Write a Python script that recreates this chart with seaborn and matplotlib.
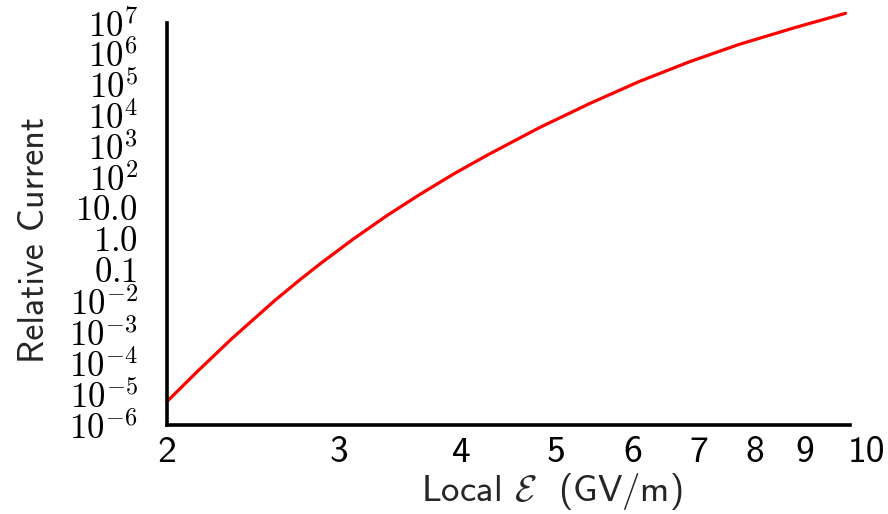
import numpy as np
import pandas as pd
import matplotlib
matplotlib.use("Agg")
import matplotlib.pyplot as plt
import matplotlib.ticker as mticker
import matplotlib.transforms as mtransforms
import seaborn as sns

# Data
field_gv_m = [2.00, 2.15, 2.33, 2.58, 2.74, 2.87, 3.10, 3.36, 3.63, 3.93,
              4.25, 4.56, 4.82, 5.42, 6.09, 6.86, 7.71, 8.81, 9.90]
log10_current = [-5.24, -4.26, -3.21, -1.97, -1.29, -0.79, 0.00, 0.77, 1.45, 2.11,
                 2.71, 3.22, 3.62, 4.39, 5.10, 5.74, 6.30, 6.85, 7.30]

xticks = [2, 3, 4, 5, 6, 7, 8, 9, 10]
xtick_labels = ["2", "3", "4", "5", "6", "7", "8", "9", "10"]
yticks = [1e7, 1e6, 1e5, 1e4, 1e3, 1e2, 1e1, 1e0, 1e-1, 1e-2, 1e-3, 1e-4, 1e-5, 1e-6]
ytick_labels = [r"$10^{7}$", r"$10^{6}$", r"$10^{5}$", r"$10^{4}$", r"$10^{3}$", r"$10^{2}$",
                r"$10.0$", r"$1.0$", r"$0.1$", r"$10^{-2}$", r"$10^{-3}$", r"$10^{-4}$",
                r"$10^{-5}$", r"$10^{-6}$"]

df = pd.DataFrame({"E": field_gv_m, "I": [10.0 ** v for v in log10_current]})

sns.set_style("white")
plt.rcParams["font.family"] = ["cmss10", "DejaVu Sans"]
plt.rcParams["mathtext.fontset"] = "cm"
plt.rcParams["axes.unicode_minus"] = False

fig = plt.figure(figsize=(8.88, 5.14), dpi=100)
ax = fig.add_axes([0.188, 0.173, 0.769, 0.783])

sns.lineplot(data=df, x="E", y="I", ax=ax, color="#ff0000", linewidth=2.3, sort=False)
for ln in ax.get_lines():
    ln.set_clip_on(False)

ax.set_xscale("log")
ax.set_yscale("log")
ax.set_xlim(2, 10)
ax.set_ylim(1e-6, 1e7)

ax.xaxis.set_major_locator(mticker.FixedLocator(xticks))
ax.xaxis.set_minor_locator(mticker.NullLocator())
ax.set_xticklabels(xtick_labels)
ax.yaxis.set_major_locator(mticker.FixedLocator(yticks))
ax.yaxis.set_minor_locator(mticker.NullLocator())
ax.set_yticklabels(ytick_labels)

for s in ["top", "right"]:
    ax.spines[s].set_visible(False)
for s in ["left", "bottom"]:
    ax.spines[s].set_linewidth(2.6)
    ax.spines[s].set_color("black")

ax.tick_params(axis="x", direction="in", length=7, width=2.4, labelsize=27, pad=8, colors="black")
ax.tick_params(axis="y", direction="in", length=11, width=2.4, labelsize=25, pad=21, colors="black")

# last x tick label sits a little right of its tick in the reference
lbl10 = ax.get_xticklabels()[-1]
lbl10.set_transform(lbl10.get_transform() + mtransforms.ScaledTranslation(17 / 100, 0, fig.dpi_scale_trans))

ax.set_xlabel(r"Local $\mathcal{E}$  (GV/m)", fontsize=26.5)
ax.set_ylabel("Relative Current", fontsize=26)
ax.xaxis.set_label_coords(0.564, -0.113)
ax.yaxis.set_label_coords(-0.17, 0.46)

fig.savefig("out.png", dpi=100, facecolor="white")
